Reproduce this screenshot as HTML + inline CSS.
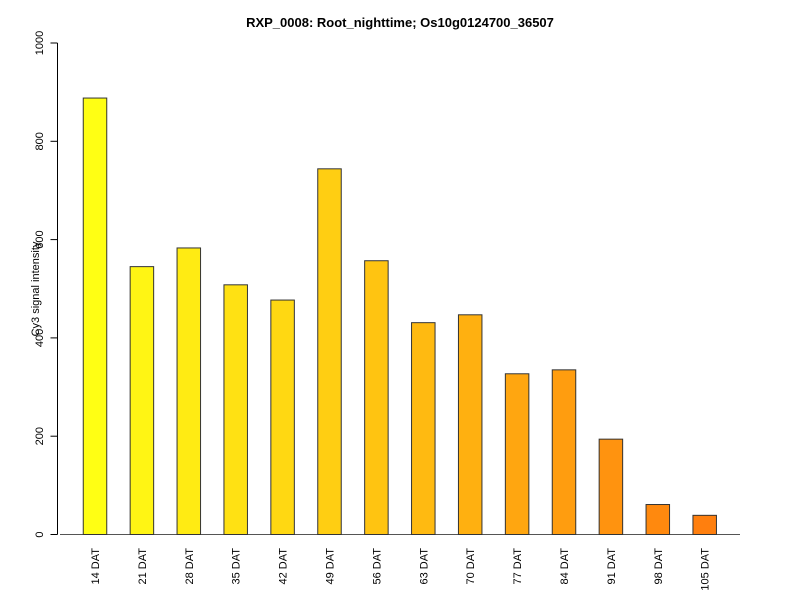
<!DOCTYPE html>
<html><head><meta charset="utf-8"><style>body{margin:0;background:#fff}svg text{font-family:"Liberation Sans",sans-serif}</style></head>
<body>
<svg id="c" width="800" height="600">
<text x="400" y="27" text-anchor="middle" font-weight="bold" font-size="13">RXP_0008: Root_nighttime; Os10g0124700_36507</text>
<text transform="translate(39,289) rotate(-90)" text-anchor="middle" font-size="11">Cy3 signal intensity</text>
</svg>
<script>
const categories=["14 DAT","21 DAT","28 DAT","35 DAT","42 DAT","49 DAT","56 DAT","63 DAT","70 DAT","77 DAT","84 DAT","91 DAT","98 DAT","105 DAT"];
const values=[888,545,583,508,477,744,557,431,447,327,335,194,61,39];
const yTicks=[0,200,400,600,800,1000];
const svg=document.getElementById('c');
const NS='http://www.w3.org/2000/svg';
const y=v=>534.5-v*0.4915;
const x=i=>95+i*46.9;
function mk(t,a,p){const e=document.createElementNS(NS,t);for(const k in a)e.setAttribute(k,a[k]);(p||svg).appendChild(e);return e;}
const ax=mk('g',{});


mk('line',{x1:57.5,x2:57.5,y1:y(0),y2:y(1000),stroke:'#000'},ax);
yTicks.forEach(t=>{
 mk('line',{x1:50.5,x2:57.5,y1:y(t),y2:y(t),stroke:'#000'},ax);
 const tx=mk('text',{transform:`translate(43,${y(t)}) rotate(-90)`,'text-anchor':'middle','font-size':11},ax);
 tx.textContent=t;
 
 
});
const base=mk('line',{x1:60,x2:740,y1:y(0),y2:y(0),stroke:'#555'});


const n=categories.length;
categories.forEach((c,i)=>{
 const f=i/(n-1);
 const g=Math.round(255-128*f), b=Math.round(20-6*f);
 const r=mk('rect',{x:x(i)-11.75,y:y(values[i]),width:23.5,height:y(0)-y(values[i]),fill:`rgb(255,${g},${b})`,stroke:'#333','stroke-width':1});
 
 
 const t=mk('text',{transform:`translate(${x(i)+4},548) rotate(-90)`,'text-anchor':'end','font-size':11});
 t.textContent=c;
 
 
});
</script>
</body></html>
